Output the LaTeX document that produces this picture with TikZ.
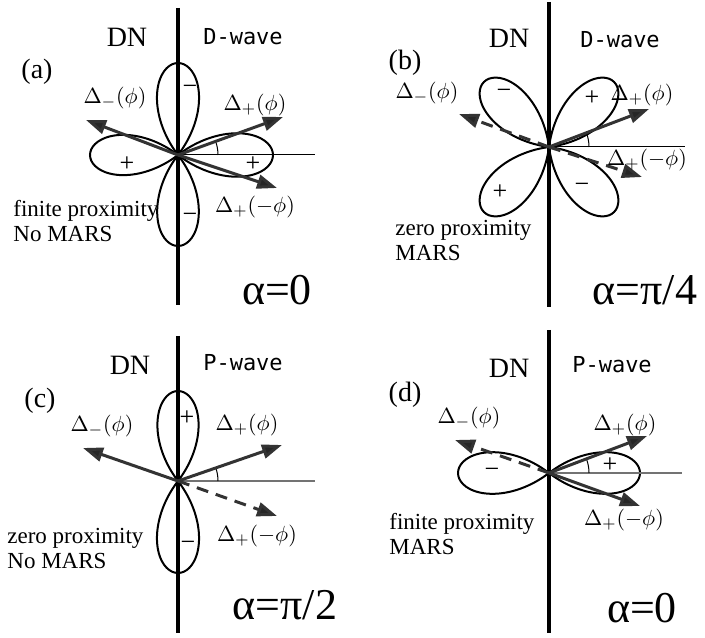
\documentclass[tikz,border=0pt]{standalone}
\usepackage{fontspec}
\setmainfont{Liberation Serif}
\newfontfamily\wavefont{DejaVu Sans Mono}
\usetikzlibrary{arrows.meta}

\tikzset{
	wall/.style={line width=2pt},
	lobe/.style={line width=1pt, smooth, samples=41, domain=-37.5:37.5},
	axis/.style={line width=0.5pt},
	gaxis/.style={line width=0.6pt, draw=black!55},
	vec/.style={line width=1.5pt, draw=black!80, -{Triangle[length=10pt,width=7pt,fill=black!85]}},
	dvec/.style={vec, dash pattern=on 6pt off 4pt},
	side/.style={font=\fontsize{14}{16}\selectfont, inner sep=0pt},
	wave/.style={font=\wavefont\fontsize{11}{13}\selectfont, inner sep=0pt},
	vlab/.style={font=\fontsize{11}{13}\selectfont, inner sep=0pt},
	note/.style={font=\fontsize{11.5}{12.5}\selectfont, align=left, anchor=west, inner sep=0pt},
	sign/.style={font=\fontsize{13}{15}\selectfont, inner sep=0pt},
	big/.style={font=\fontsize{22}{24}\selectfont, inner sep=0pt}
}

\begin{document}
\begin{tikzpicture}[x=0.5pt,y=0.5pt]
	\useasboundingbox (0,0) rectangle (705,637);
	\begin{scope}[shift={(178,482)}]
		\coordinate (oa) at (0,0);
		\coordinate (ta) at (0,147);
		\coordinate (ba) at (0,-150);
		\coordinate (ha) at (137,0);
		\coordinate (pa) at (105,38);
		\coordinate (ma) at (99,-33);
		\coordinate (la) at (-92,35);
		\foreach \ang/\len in {0/95,90/92,180/88,270/91}
			\draw[lobe] plot ({\len*cos(2.4*\x)*cos(\x+\ang)},{\len*cos(2.4*\x)*sin(\x+\ang)});
		\draw[axis] (oa) -- (ha);
		\draw[axis] (40,0) arc[start angle=0,end angle=20,radius=40];
		\draw[wall] (ta) -- (ba);
		\draw[vec] (oa) -- (pa);
		\draw[vec] (oa) -- (ma);
		\draw[vec] (oa) -- (la);
		\node[side] (dna) at (-51,118) {DN};
		\node[wave] (wva) at (65,118) {D-wave};
		\node[side] (tga) at (-141,83) {(a)};
		\node[vlab] (lma) at (-63,57) {$\Delta_{-}(\phi)$};
		\node[vlab] (lpa) at (77,50) {$\Delta_{+}(\phi)$};
		\node[vlab] (lna) at (77,-52) {$\Delta_{+}(-\phi)$};
		\node[note] (nta) at (-165,-66) {finite proximity\\No MARS};
		\node[big] (ala) at (99,-135) {α=0};
		\node[sign] (s1a) at (12,65) {−};
		\node[sign] (s2a) at (12,-63) {−};
		\node[sign] (s3a) at (-51,-9) {+};
		\node[sign] (s4a) at (75,-9) {+};
	\end{scope}
	\begin{scope}[shift={(549,490)}]
		\coordinate (ob) at (0,0);
		\coordinate (tb) at (0,145);
		\coordinate (bb) at (0,-160);
		\coordinate (hb) at (136,0);
		\coordinate (pb) at (100,38);
		\coordinate (mb) at (93,-30);
		\coordinate (lb) at (-90,33);
		\foreach \ang in {45,135,225,315}
			\draw[lobe] plot ({92*cos(2.4*\x)*cos(\x+\ang)},{92*cos(2.4*\x)*sin(\x+\ang)});
		\draw[axis] (ob) -- (hb);
		\draw[axis] (40,0) arc[start angle=0,end angle=20,radius=40];
		\draw[wall] (tb) -- (bb);
		\draw[vec] (ob) -- (pb);
		\draw[dvec] (ob) -- (mb);
		\draw[dvec] (ob) -- (lb);
		\node[side] (dnb) at (-40,109) {DN};
		\node[wave] (wvb) at (71,107) {D-wave};
		\node[side] (tgb) at (-144,84) {(b)};
		\node[vlab] (lmb) at (-122,54) {$\Delta_{-}(\phi)$};
		\node[vlab] (lpb) at (93,52) {$\Delta_{+}(\phi)$};
		\node[vlab] (lnb) at (98,-13) {$\Delta_{+}(-\phi)$};
		\node[note] (ntb) at (-154,-94) {zero proximity\\MARS};
		\node[big] (alb) at (96,-143) {α=π/4};
		\node[sign] (s1b) at (-45,53) {−};
		\node[sign] (s2b) at (43,49) {+};
		\node[sign] (s3b) at (-49,-45) {+};
		\node[sign] (s4b) at (33,-41) {−};
	\end{scope}
	\begin{scope}[shift={(178,156)}]
		\coordinate (oc) at (0,0);
		\coordinate (tc) at (0,145);
		\coordinate (bc) at (0,-152);
		\coordinate (hc) at (137,0);
		\coordinate (pc) at (104,36);
		\coordinate (mc) at (99,-35);
		\coordinate (lc) at (-95,33);
		\foreach \ang/\len in {90/90,270/92}
			\draw[lobe] plot ({\len*cos(2.4*\x)*cos(\x+\ang)},{\len*cos(2.4*\x)*sin(\x+\ang)});
		\draw[gaxis] (oc) -- (hc);
		\draw[axis] (40,0) arc[start angle=0,end angle=20,radius=40];
		\draw[wall] (tc) -- (bc);
		\draw[vec] (oc) -- (pc);
		\draw[dvec] (oc) -- (mc);
		\draw[vec] (oc) -- (lc);
		\node[side] (dnc) at (-48,116) {DN};
		\node[wave] (wvc) at (65,118) {P-wave};
		\node[side] (tgc) at (-138,80) {(c)};
		\node[vlab] (lmc) at (-76,55) {$\Delta_{-}(\phi)$};
		\node[vlab] (lpc) at (69,56) {$\Delta_{+}(\phi)$};
		\node[vlab] (lnc) at (79,-55) {$\Delta_{+}(-\phi)$};
		\node[note] (ntc) at (-171,-67) {zero proximity\\No MARS};
		\node[big] (alc) at (107,-124) {α=π/2};
		\node[sign] (s1c) at (9,63) {+};
		\node[sign] (s2c) at (10,-65) {−};
	\end{scope}
	\begin{scope}[shift={(549,164)}]
		\coordinate (od) at (0,0);
		\coordinate (td) at (0,143);
		\coordinate (bd) at (0,-160);
		\coordinate (hd) at (133,0);
		\coordinate (pd) at (98,37);
		\coordinate (md) at (91,-33);
		\coordinate (ld) at (-94,33);
		\foreach \ang in {0,180}
			\draw[lobe] plot ({91*cos(2.4*\x)*cos(\x+\ang)},{91*cos(2.4*\x)*sin(\x+\ang)});
		\draw[gaxis] (od) -- (hd);
		\draw[axis] (40,0) arc[start angle=0,end angle=20,radius=40];
		\draw[wall] (td) -- (bd);
		\draw[vec] (od) -- (pd);
		\draw[vec] (od) -- (md);
		\draw[dvec] (od) -- (ld);
		\node[side] (dnd) at (-40,105) {DN};
		\node[wave] (wvd) at (63,108) {P-wave};
		\node[side] (tgd) at (-144,78) {(d)};
		\node[vlab] (lmd) at (-80,55) {$\Delta_{-}(\phi)$};
		\node[vlab] (lpd) at (76,48) {$\Delta_{+}(\phi)$};
		\node[vlab] (lnd) at (75,-47) {$\Delta_{+}(-\phi)$};
		\node[note] (ntd) at (-160,-61) {finite proximity\\MARS};
		\node[big] (ald) at (93,-135) {α=0};
		\node[sign] (s1d) at (-57,0) {−};
		\node[sign] (s2d) at (61,8) {+};
	\end{scope}
\end{tikzpicture}
\end{document}
